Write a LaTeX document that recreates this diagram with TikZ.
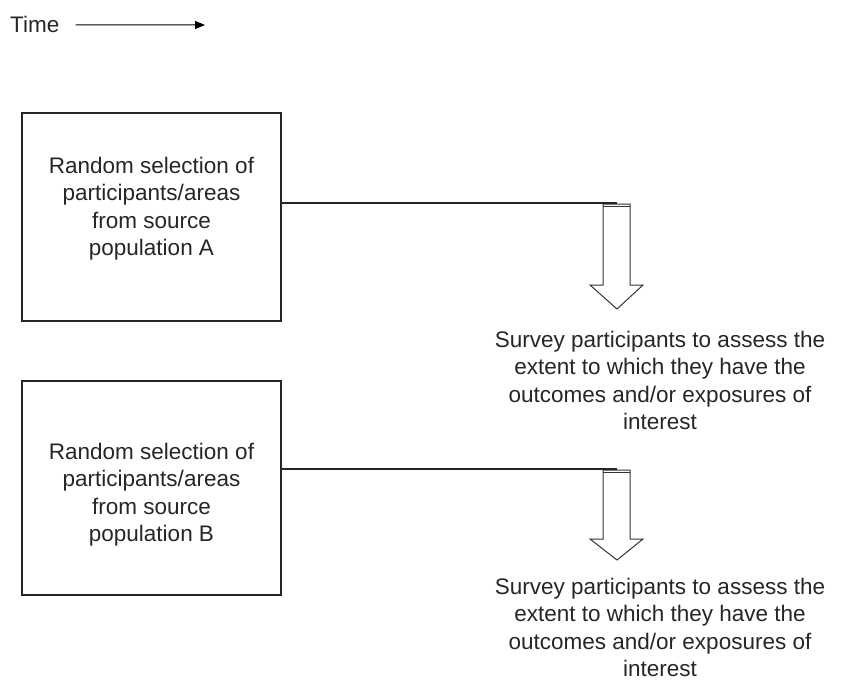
\documentclass[tikz,border=0pt]{standalone}
\usepackage{fontspec}
\setmainfont{Liberation Sans}
\usetikzlibrary{arrows.meta}
\begin{document}
\begin{tikzpicture}[x=1pt,y=-1pt,
  txt/.style={inner sep=0pt,align=center,font=\fontsize{22.5}{27.3}\selectfont,text=black!85},
  boxstyle/.style={draw=black!85,line width=2pt,minimum width=259pt,minimum height=208pt,inner sep=0pt},
  conn/.style={draw=black!85,line width=1.4pt},
  hollow/.style={draw=black!80,line width=1pt,fill=white,line join=miter}]
\useasboundingbox (0,0) rectangle (843,682);
% Time axis
\node[txt,anchor=base west] (time) at (10,33) {Time};
\coordinate (timeEnd) at (205,25);
\draw[line width=1pt,-{Triangle[length=10pt,width=8pt]}] ([xshift=16pt]time.east) -- (timeEnd);
% boxes
\node[boxstyle,minimum height=208pt] (boxA) at (151.5,217) {};
\node[boxstyle,minimum height=214pt] (boxB) at (151.5,488) {};
\node[txt,anchor=north] (txtA) at (151.5,157) {Random selection of\\participants/areas\\from source\\population A};
\node[txt,anchor=north] (txtB) at (151.5,443) {Random selection of\\participants/areas\\from source\\population B};
% hollow arrows
\coordinate (arrAtop) at (617,203);
\coordinate (arrBtop) at (617,469);
\draw[hollow] (603,204) -- (630,204) -- (630,285) -- (643,285) -- (617,309) -- (590,285) -- (603,285) -- cycle;
\draw[line width=0.8pt,black!80] (603,206.5) -- (630,206.5);
\draw[hollow] (603,470) -- (630,470) -- (630,539) -- (643,539) -- (617,560) -- (590,539) -- (603,539) -- cycle;
\draw[line width=0.8pt,black!80] (603,472.5) -- (630,472.5);
% connectors
\draw[conn] (boxA.east |- arrAtop) -- (arrAtop);
\draw[conn] (boxB.east |- arrBtop) -- (arrBtop);
% survey texts
\node[txt,anchor=north] (survA) at (660,331) {Survey participants to assess the\\extent to which they have the\\outcomes and/or exposures of\\interest};
\node[txt,anchor=north] (survB) at (660,578) {Survey participants to assess the\\extent to which they have the\\outcomes and/or exposures of\\interest};
\end{tikzpicture}
\end{document}
